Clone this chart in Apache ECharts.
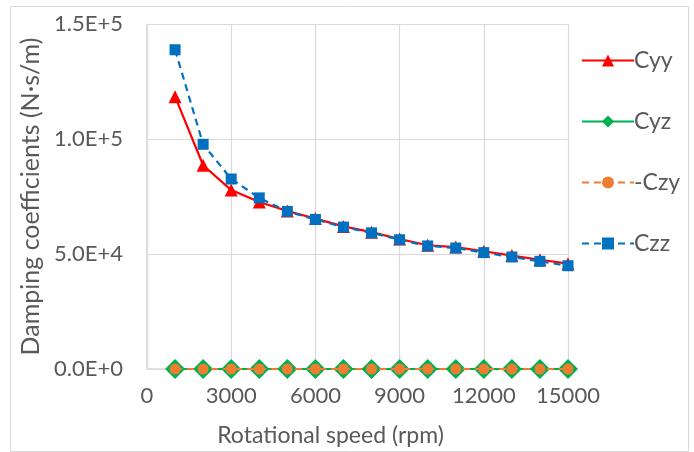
<!DOCTYPE html>
<html><head><meta charset="utf-8">
<script src="https://cdn.jsdelivr.net/npm/echarts@6/dist/echarts.min.js"></script>
<style>html,body{margin:0;padding:0;background:#fff}#c{width:694px;height:452px}</style>
</head><body><div id="c"></div>
<script>
var speeds = [1000,2000,3000,4000,5000,6000,7000,8000,9000,10000,11000,12000,13000,14000,15000];
var cyy = [118400,88600,77800,72600,68700,65400,62000,59500,56500,53800,53000,51200,49300,47500,45800];
var cyz = [0,0,0,0,0,0,0,0,0,0,0,0,0,0,0];
var czyNeg = [0,0,0,0,0,0,0,0,0,0,0,0,0,0,0];
var czz = [138800,97700,82600,74400,68500,65000,61700,59200,56200,53500,52600,50600,48700,46800,44900];
var seriesNames = ['Cyy','Cyz','-Czy','Czz'];

function pairs(arr){ return speeds.map(function(s,i){return [s,arr[i]];}); }
function sci(v){
  if (v === 0) return '0.0E+0';
  var e = Math.floor(Math.log10(v) + 1e-9);
  var m = v / Math.pow(10, e);
  return m.toFixed(1) + 'E+' + e;
}
var FONT = 'Lato';
var TXT = '#595959';
var chart = echarts.init(document.getElementById('c'), null, {renderer:'canvas'});
chart.setOption({
  animation:false,
  backgroundColor:'#fff',
  graphic:[{type:'rect', left:8, top:4, shape:{width:678, height:445}, style:{fill:'none', stroke:'#d9d9d9', lineWidth:1}, silent:true}],
  grid:{left:147, right:126, top:24, bottom:81},
  legend:{
    orient:'vertical', left:576, top:44, itemGap:38, itemWidth:52, itemHeight:15,
    textStyle:{fontFamily:FONT, fontSize:23, color:TXT, padding:[0,0,0,-5]},
    data:seriesNames
  },
  xAxis:{
    type:'value', min:0, max:15000, interval:3000,
    name:'Rotational speed (rpm)', nameLocation:'middle', nameGap:55,
    nameTextStyle:{fontFamily:FONT, fontSize:23, color:TXT, padding:[0,54,0,0]},
    axisLine:{show:true, lineStyle:{color:'#d9d9d9', width:1.5}},
    axisTick:{show:false},
    axisLabel:{fontFamily:FONT, fontSize:22, color:TXT, margin:16, formatter:function(v){return String(v);}},
    splitLine:{show:true, lineStyle:{color:'#d9d9d9', width:1.2}}
  },
  yAxis:{
    type:'value', min:0, max:150000, interval:50000,
    name:'Damping coefficients (N·s/m)', nameLocation:'middle', nameGap:104,
    nameTextStyle:{fontFamily:FONT, fontSize:25, color:TXT},
    axisLine:{show:true, lineStyle:{color:'#d9d9d9', width:1.5}},
    axisTick:{show:false},
    axisLabel:{fontFamily:FONT, fontSize:22, color:TXT, margin:24, formatter:sci},
    splitLine:{show:true, lineStyle:{color:'#d9d9d9', width:1.2}}
  },
  series:[
    {name:'Cyy', type:'line', data:pairs(cyy), symbol:'triangle', symbolSize:13,
     lineStyle:{color:'#ff0000', width:2.2}, itemStyle:{color:'#ff0000'}, z:2},
    {name:'Czz', type:'line', data:pairs(czz), symbol:'rect', symbolSize:11,
     lineStyle:{color:'#0070c0', width:2.2, type:[7,5]}, itemStyle:{color:'#0070c0'}, z:3},
    {name:'Cyz', type:'line', data:pairs(cyz), symbol:'diamond', symbolSize:20,
     lineStyle:{color:'#00b050', width:2.2}, itemStyle:{color:'#00b050'}, z:4},
    {name:'-Czy', type:'line', data:pairs(czyNeg), symbol:'circle', symbolSize:11,
     lineStyle:{color:'#ed7d31', width:2.2, type:[7,5]}, itemStyle:{color:'#ed7d31'}, z:5}
  ]
});
</script></body></html>
